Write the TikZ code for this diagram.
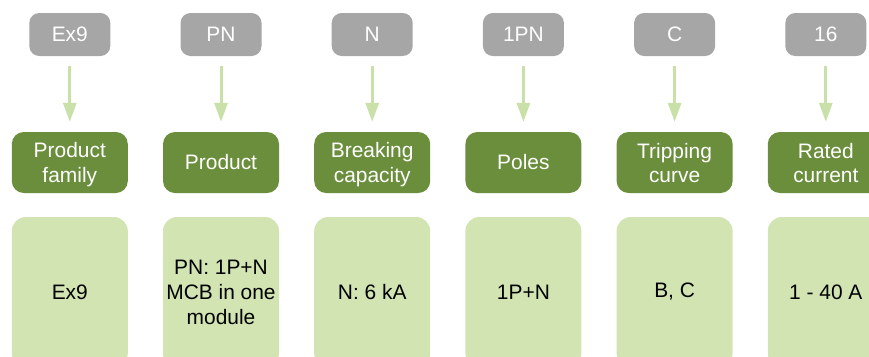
\documentclass[tikz,border=0pt]{standalone}
\usepackage{fontspec}
\setmainfont{Liberation Sans}
\usetikzlibrary{arrows.meta}
\definecolor{codegray}{HTML}{A6A6A6}
\definecolor{darkgreen}{HTML}{6A8E3C}
\definecolor{lightgreen}{HTML}{D1E4B1}
\definecolor{arrowgreen}{HTML}{C9E0A8}
\begin{document}
\begin{tikzpicture}[x=1bp,y=-1bp,
  txt/.style={font=\fontsize{21}{25}\selectfont, align=center, inner sep=0pt},
  codebox/.style={txt, fill=codegray, text=white, rounded corners=10bp, minimum width=81bp, minimum height=43bp},
  catbox/.style={fill=darkgreen, rounded corners=12bp, minimum width=116bp, minimum height=61bp, inner sep=0pt},
  cattext/.style={txt, text=white},
  valbox/.style={txt, fill=lightgreen, text=black, rounded corners=14bp, minimum width=116bp, minimum height=150bp},
  arr/.style={draw=arrowgreen, line width=3bp, -{Triangle[width=13bp,length=19bp]}, shorten <=10bp, shorten >=10bp}
]
\useasboundingbox (0,0) rectangle (869,356);
\foreach \i/\code/\cat/\dy/\val in {
  0/Ex9/{Product\\family}/2.5/Ex9,
  1/PN/Product/0/{PN: 1P+N\\MCB in one\\module},
  2/N/{Breaking\\capacity}/2.5/{N: 6 kA},
  3/1PN/Poles/0/1P+N,
  4/C/{Tripping\\curve}/0.5/{B, C},
  5/16/{Rated\\current}/0.5/{1 - 40 A}}{
  \pgfmathsetmacro{\cx}{69.8+151.2*\i}
  \node[codebox] (g\i) at (\cx,34.5) {\code};
  \node[catbox] (d\i) at (\cx,162.5) {};
  \node[cattext] (dt\i) at (\cx,162.5+\dy) {\cat};
  \node[valbox] (v\i) at (\cx,292) {\val};
  \draw[arr] (g\i) -- (d\i);
}
\end{tikzpicture}
\end{document}
